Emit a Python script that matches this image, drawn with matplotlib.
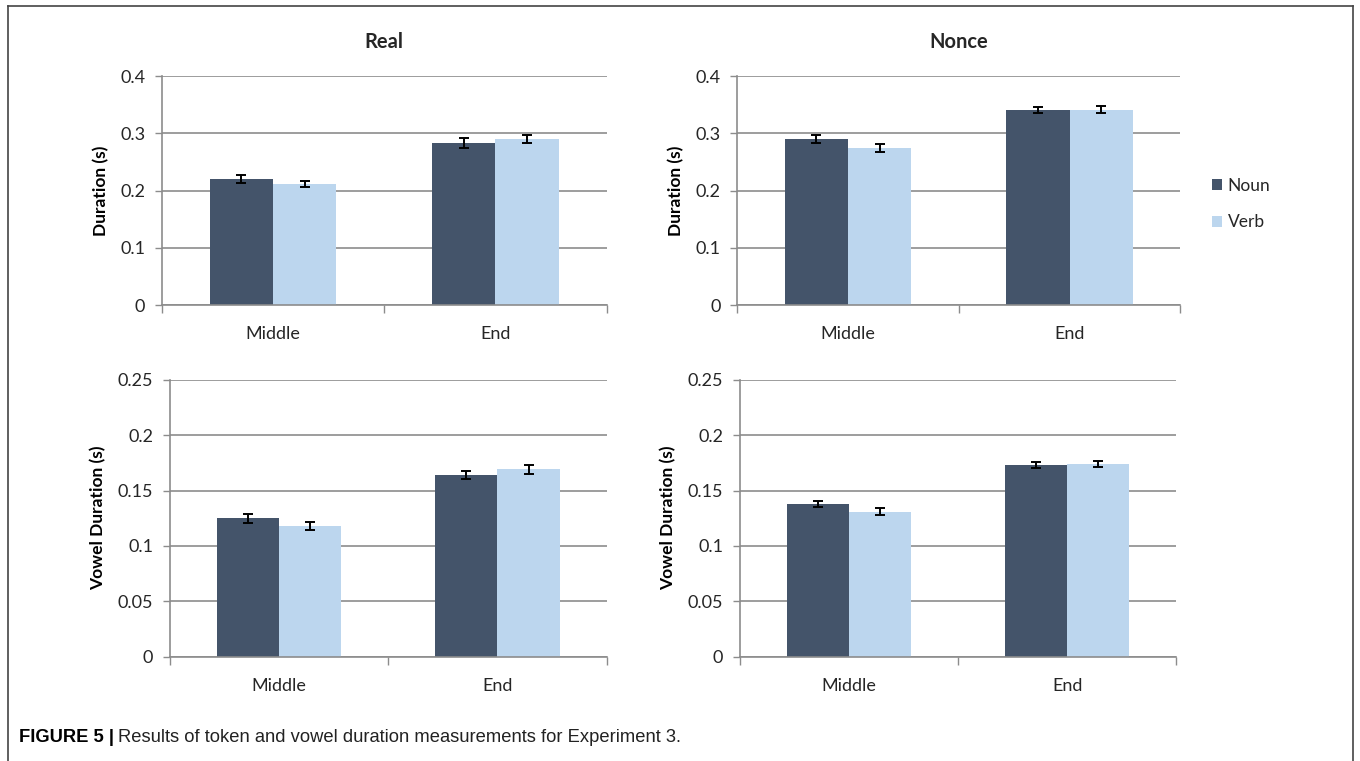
import matplotlib.pyplot as plt
import numpy as np

# data
positions = ['Middle', 'End']
groups = ['Noun', 'Verb']

# token duration (s)
real_token_noun = [0.220, 0.283]
real_token_verb = [0.212, 0.291]
real_token_noun_err = [0.007, 0.009]
real_token_verb_err = [0.005, 0.007]

nonce_token_noun = [0.291, 0.341]
nonce_token_verb = [0.275, 0.341]
nonce_token_noun_err = [0.007, 0.005]
nonce_token_verb_err = [0.007, 0.006]

# vowel duration (s)
real_vowel_noun = [0.125, 0.164]
real_vowel_verb = [0.118, 0.169]
real_vowel_noun_err = [0.004, 0.004]
real_vowel_verb_err = [0.004, 0.004]

nonce_vowel_noun = [0.138, 0.173]
nonce_vowel_verb = [0.131, 0.174]
nonce_vowel_noun_err = [0.003, 0.003]
nonce_vowel_verb_err = [0.003, 0.003]

token_ticks = [0, 0.1, 0.2, 0.3, 0.4]
token_ticklabels = ['0', '0.1', '0.2', '0.3', '0.4']
vowel_ticks = [0, 0.05, 0.1, 0.15, 0.2, 0.25]
vowel_ticklabels = ['0', '0.05', '0.1', '0.15', '0.2', '0.25']

noun_color = '#44546a'
verb_color = '#bcd6ee'
grid_color = '#8c8c8c'
text_color = '#262626'

plt.rcParams['font.family'] = ['Lato', 'DejaVu Sans']

W, H = 1360, 761
fig = plt.figure(figsize=(W / 100, H / 100), dpi=100)


def draw_panel(rect, noun, verb, noun_err, verb_err, ticks, ticklabels, ylabel, title=None):
    ax = fig.add_axes(rect)
    x = np.arange(len(positions))
    w = 0.285
    ax.bar(x - w / 2, noun, w, color=noun_color, zorder=2, label=groups[0])
    ax.bar(x + w / 2, verb, w, color=verb_color, zorder=2, label=groups[1])
    ax.errorbar(x - w / 2, noun, yerr=noun_err, fmt='none', ecolor='black',
                elinewidth=1.4, capsize=3.5, capthick=1.4, zorder=3)
    ax.errorbar(x + w / 2, verb, yerr=verb_err, fmt='none', ecolor='black',
                elinewidth=1.4, capsize=3.5, capthick=1.4, zorder=3)
    ax.set_xlim(-0.5, 1.5)
    ax.set_ylim(0, ticks[-1])
    ax.set_yticks(ticks)
    ax.set_yticklabels(ticklabels, fontsize=13, color=text_color)
    ax.set_xticks(x)
    ax.set_xticklabels(positions, fontsize=13, color=text_color)
    ax.tick_params(axis='x', length=0, pad=15)
    ax.tick_params(axis='y', length=5, width=1, color=grid_color, pad=7)
    ax.set_xticks([-0.5, 0.5, 1.5], minor=True)
    ax.tick_params(axis='x', which='minor', length=6, width=1, color=grid_color)
    ax.yaxis.grid(True, color=grid_color, linewidth=1.2, zorder=0)
    ax.set_axisbelow(True)
    for s in ['top', 'right']:
        ax.spines[s].set_visible(False)
    for s in ['left', 'bottom']:
        ax.spines[s].set_color(grid_color)
        ax.spines[s].set_linewidth(1.2)
    ax.set_ylabel(ylabel, fontsize=12.5, fontweight='bold', labelpad=8, color='black')
    if title:
        ax.set_title(title, fontsize=14.5, fontweight='bold', pad=20, color=text_color)
    return ax


draw_panel([0.119, 0.599, 0.327, 0.301], real_token_noun, real_token_verb,
           real_token_noun_err, real_token_verb_err, token_ticks, token_ticklabels,
           'Duration (s)', 'Real')
ax_tr = draw_panel([0.542, 0.599, 0.326, 0.301], nonce_token_noun, nonce_token_verb,
                   nonce_token_noun_err, nonce_token_verb_err, token_ticks, token_ticklabels,
                   'Duration (s)', 'Nonce')
draw_panel([0.125, 0.137, 0.321, 0.364], real_vowel_noun, real_vowel_verb,
           real_vowel_noun_err, real_vowel_verb_err, vowel_ticks, vowel_ticklabels,
           'Vowel Duration (s)')
draw_panel([0.544, 0.137, 0.321, 0.364], nonce_vowel_noun, nonce_vowel_verb,
           nonce_vowel_noun_err, nonce_vowel_verb_err, vowel_ticks, vowel_ticklabels,
           'Vowel Duration (s)')

leg = ax_tr.legend(loc='center left', bbox_to_anchor=(1212 / W, 1 - 204 / H),
                   bbox_transform=fig.transFigure, frameon=False, fontsize=12.5,
                   handlelength=0.6, handleheight=0.6, handletextpad=0.3,
                   labelspacing=1.2, borderpad=0, borderaxespad=0)
for t in leg.get_texts():
    t.set_color(text_color)

# frame around the figure
fig.add_artist(plt.Line2D([0.006, 0.006], [0.0, 0.992], color='#444444', lw=1.2))
fig.add_artist(plt.Line2D([0.006, 0.995], [0.992, 0.992], color='#444444', lw=1.2))
fig.add_artist(plt.Line2D([0.995, 0.995], [0.0, 0.992], color='#444444', lw=1.2))

cap_y = 1 - 738 / H
bold = fig.text(19 / W, cap_y, 'FIGURE 5 |', fontsize=13.2, fontweight='bold',
                family='Liberation Sans', va='center')
renderer = fig.canvas.get_renderer()
bb = bold.get_window_extent(renderer)
fig.text(bb.x1 / W + 4 / W, cap_y,
         'Results of token and vowel duration measurements for Experiment 3.',
         fontsize=13.2, family='Liberation Sans', va='center', color='#222222')

fig.savefig('out.png', dpi=100)
